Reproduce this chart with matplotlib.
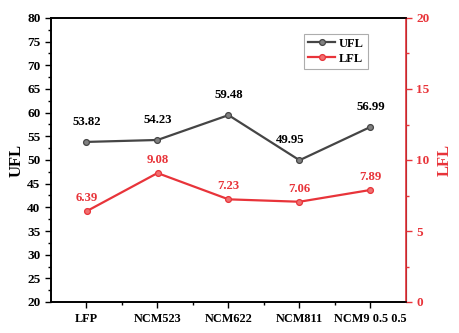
import matplotlib
matplotlib.use("Agg")
import matplotlib.pyplot as plt
from matplotlib.ticker import MultipleLocator, FixedLocator

categories = ["LFP", "NCM523", "NCM622", "NCM811", "NCM9 0.5 0.5"]
ufl = [53.82, 54.23, 59.48, 49.95, 56.99]
lfl = [6.39, 9.08, 7.23, 7.06, 7.89]

plt.rcParams['font.family'] = ['Liberation Serif', 'DejaVu Serif']
plt.rcParams['font.weight'] = 'bold'

red = '#e8343a'
gray = '#454545'

fig = plt.figure(figsize=(4.6, 3.33), dpi=100)
ax = fig.add_axes([51/460, 31/333, 355/460, 284/333])
x = list(range(len(categories)))
l1, = ax.plot(x, ufl, '-o', color=gray, lw=1.6, ms=4.2, mfc='#808080', mec=gray, mew=0.9, label='UFL')
ax.set_xlim(-0.5, 4.5)
ax.set_ylim(20, 80)
ax.yaxis.set_major_locator(MultipleLocator(5))
ax.yaxis.set_minor_locator(MultipleLocator(2.5))
ax.set_xticks(x)
ax.set_xticklabels(categories, fontsize=8.8, fontweight='bold')
ax.xaxis.set_minor_locator(FixedLocator([0.5, 1.5, 2.5, 3.5]))
ax.tick_params(axis='y', which='major', direction='out', length=4, width=1, labelsize=9.5)
ax.tick_params(axis='x', which='major', direction='out', length=4, width=1, labelsize=8.8, pad=4)
ax.tick_params(axis='both', which='minor', direction='out', length=2.5, width=1)
ax.set_ylabel('UFL', fontsize=12, fontweight='bold', labelpad=2)
for lab in ax.get_yticklabels():
    lab.set_fontweight('bold')
for xi, v in zip(x, ufl):
    dx = -7 if xi == 3 else 0
    ax.annotate(f"{v:.2f}", (xi, v), xytext=(dx, 10), textcoords='offset points',
                ha='center', va='bottom', fontsize=9.2, fontweight='bold', color='black')

ax2 = ax.twinx()
l2, = ax2.plot(x, lfl, '-o', color=red, lw=1.6, ms=4.2, mfc='#f07070', mec=red, mew=0.9, label='LFL')
ax2.set_ylim(0, 20)
ax2.yaxis.set_major_locator(MultipleLocator(5))
ax2.yaxis.set_minor_locator(MultipleLocator(2.5))
ax2.tick_params(axis='y', which='major', direction='out', length=4, width=1, colors=red, labelsize=9.5)
ax2.tick_params(axis='y', which='minor', direction='out', length=2.5, width=1, colors=red)
ax2.spines['right'].set_color(red)
ax2.spines['right'].set_linewidth(1.2)
ax2.set_ylabel('LFL', fontsize=12, fontweight='bold', color=red, labelpad=5)
for lab in ax2.get_yticklabels():
    lab.set_fontweight('bold')
for xi, v in zip(x, lfl):
    ax2.annotate(f"{v:.2f}", (xi, v), xytext=(0, 5), textcoords='offset points',
                 ha='center', va='bottom', fontsize=9.2, fontweight='bold', color=red)

for sp in ['left', 'top', 'bottom']:
    ax2.spines[sp].set_linewidth(1.2)
    ax.spines[sp].set_linewidth(1.2)

leg = ax.legend([l1, l2], ['UFL', 'LFL'], loc='upper left', bbox_to_anchor=(0.713, 0.944),
                borderaxespad=0, fontsize=9, frameon=True, fancybox=False, edgecolor='#999999',
                borderpad=0.3, handlelength=2.2, handletextpad=0.3, labelspacing=0.25)
leg.get_frame().set_linewidth(0.8)

fig.savefig('out.png', dpi=100)
